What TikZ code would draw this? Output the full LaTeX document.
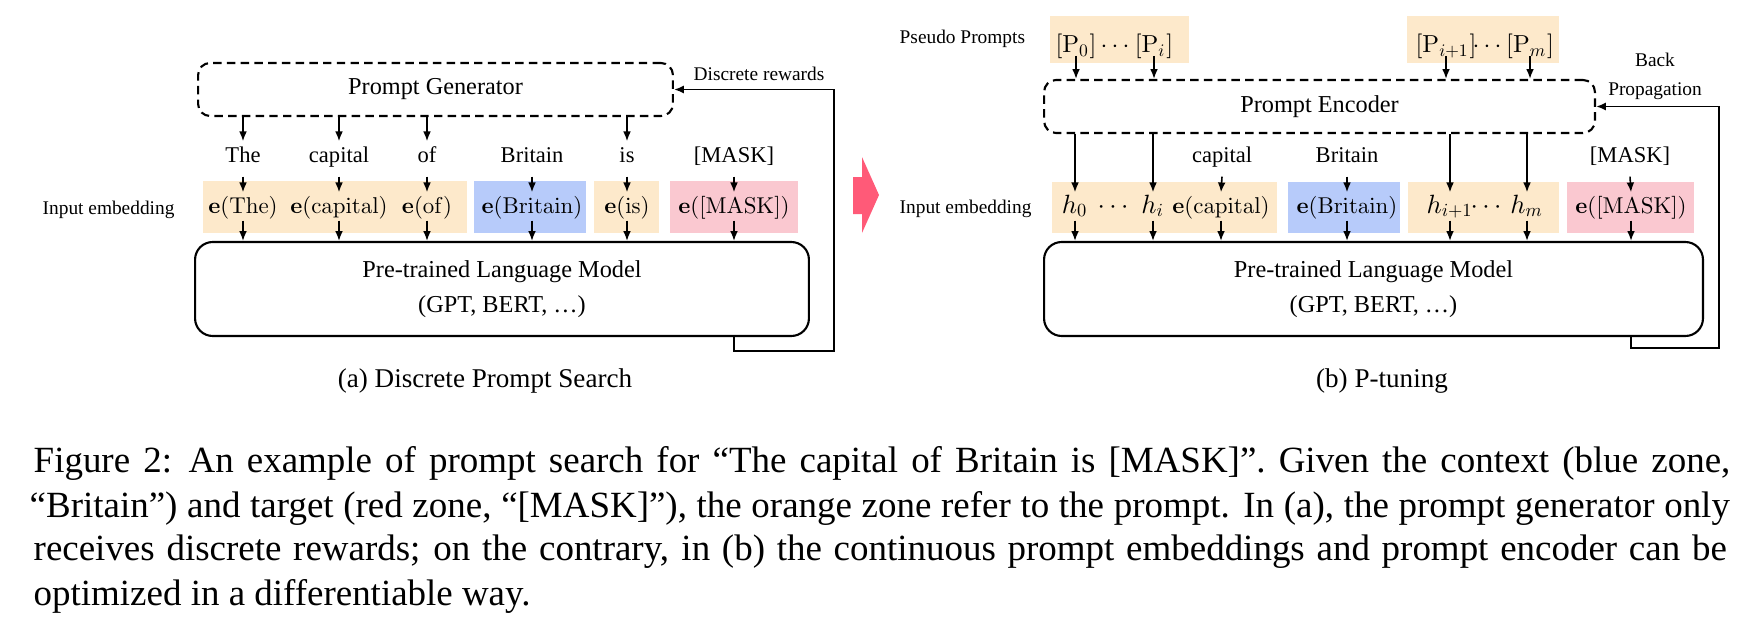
\documentclass[tikz,border=0pt]{standalone}
\usepackage[no-math]{fontspec}
\setmainfont{Liberation Serif}
\usetikzlibrary{arrows.meta}
% scalable 10pt-design Computer Modern at every size
\DeclareFontShape{OT1}{cmr}{m}{n}{<->cmr10}{}
\DeclareFontShape{OT1}{cmr}{bx}{n}{<->cmbx10}{}
\DeclareFontShape{OML}{cmm}{m}{it}{<->cmmi10}{}
\DeclareFontShape{OMS}{cmsy}{m}{n}{<->cmsy10}{}
\DeclareFontShape{OMX}{cmex}{m}{n}{<->cmex10}{}
\definecolor{zorange}{RGB}{253,233,203}
\definecolor{zblue}{RGB}{183,203,250}
\definecolor{zred}{RGB}{250,200,208}
\definecolor{parrow}{RGB}{255,90,120}
\newcommand\mycapfont{\fontsize{10.5pt}{12.6pt}\selectfont}
\newcommand\myboxfont{\fontsize{6.9pt}{9.4pt}\selectfont}
\newcommand\mywordfont{\fontsize{6.4pt}{8pt}\selectfont}
\newcommand\myembfont{\fontsize{6.5pt}{8pt}\selectfont}
\newcommand\myhfont{\fontsize{7.5pt}{9pt}\selectfont}
\newcommand\myppfont{\fontsize{7pt}{9pt}\selectfont}
\newcommand\mylblfont{\fontsize{5.5pt}{6.8pt}\selectfont}
\newcommand\mysubfont{\fontsize{7.7pt}{9pt}\selectfont}
\begin{document}
\begin{tikzpicture}[x=0.2841pt,y=-0.2841pt,
  arr/.style={-{Latex[length=2.8pt,width=2.2pt]}, line width=0.45pt},
  fbline/.style={-{Latex[length=2.8pt,width=2.3pt]}, line width=0.55pt},
  box/.style={draw, line width=0.6pt, inner sep=0, font=\myboxfont, align=center},
  dbox/.style={box, dash pattern=on 2.4pt off 1.5pt, rounded corners=3.4pt},
  lmbox/.style={box, rounded corners=5pt},
  word/.style={inner sep=0, anchor=base, text height=5.68pt, text depth=3.98pt, font=\mywordfont},
  emb/.style={inner sep=0, anchor=base, text height=5.68pt, text depth=2pt, font=\myembfont},
  hemb/.style={emb, font=\myhfont},
  pp/.style={inner sep=0, anchor=base, text height=5pt, text depth=0.6pt, font=\myppfont},
  lbl/.style={inner sep=0, font=\mylblfont},
  sub/.style={inner sep=0, anchor=base, font=\mysubfont},
  capline/.style={inner sep=0, anchor=base west, font=\mycapfont}]
\useasboundingbox (0,0) rectangle (1756,641);

% ---------- zones ----------
\fill[zorange] (203,181) rectangle (467,233);
\fill[zblue]   (474,181) rectangle (586,233);
\fill[zorange] (594,181) rectangle (659,233);
\fill[zred]    (670,181) rectangle (798,233);

\fill[zorange] (1050,16) rectangle (1189,63);
\fill[zorange] (1407,16) rectangle (1559,63);
\fill[zorange] (1052,182) rectangle (1277,233);
\fill[zblue]   (1288,182) rectangle (1400,233);
\fill[zorange] (1408,182) rectangle (1559,233);
\fill[zred]    (1567,182) rectangle (1694,233);

% ---------- (a) ----------
\node[dbox, minimum width=134.9pt, minimum height=15.06pt] (gen) at (435.5,89.5) {Prompt Generator};
\node[lmbox, minimum width=174.4pt, minimum height=26.7pt] (lm1) at (502,289)
  {Pre-trained Language Model\\[0.7pt](GPT, BERT, \dots)};

\node[word] (w1) at (243,162) {The};
\node[word] (w2) at (339,162) {capital};
\node[word] (w3) at (427,162) {of};
\node[word] (w4) at (532,162) {Britain};
\node[word] (w5) at (627,162) {is};
\node[word] (w6) at (734,162) {[MASK]};

\node[emb] (e1) at (243,213) {$\mathbf{e}(\mathrm{The})$};
\node[emb] (e2) at (339,213) {$\mathbf{e}(\mathrm{capital})$};
\node[emb] (e3) at (427,213) {$\mathbf{e}(\mathrm{of})$};
\node[emb] (e4) at (532,213) {$\mathbf{e}(\mathrm{Britain})$};
\node[emb] (e5) at (627,213) {$\mathbf{e}(\mathrm{is})$};
\node[emb] (e6) at (734,213) {$\mathbf{e}([\mathrm{MASK}])$};

\foreach \n in {1,2,3,5} \draw[arr] (gen.south -| w\n) -- (w\n.north);
\foreach \n in {1,...,6} {
  \draw[arr] (w\n.south) -- (e\n.north);
  \draw[arr] (e\n.south) -- (e\n.south |- lm1.north);
}

\node[lbl, anchor=base west] (ie1) at (42,214) {Input embedding};
\node[lbl, anchor=base west] (dr) at (693,80) {Discrete rewards};
\coordinate (fa) at (834,351);
\draw[fbline] (lm1.south -| e6) |- (fa) |- (gen.east);

\node[sub] (capa) at (485,387) {(a) Discrete Prompt Search};

% ---------- arrow between ----------
\fill[parrow] (853,177) -- (862,177) -- (862,157) -- (879,195) -- (862,233) -- (862,214) -- (853,214) -- cycle;

% ---------- (b) ----------
\node[lbl, anchor=base west] (pseudo) at (899,43) {Pseudo Prompts};
\node[pp] (p0)  at (1076,53) {$[\mathrm{P}_0]$};
\node[pp] (pd1) at (1115,53) {$\cdots$};
\node[pp] (pi)  at (1154,53) {$[\mathrm{P}_i]$};
\node[pp] (pi1) at (1446,53) {$[\mathrm{P}_{i+1}]$};
\node[pp] (pd2) at (1487,53) {$\cdots$};
\node[pp] (pm)  at (1530,53) {$[\mathrm{P}_m]$};

\node[dbox, minimum width=156.5pt, minimum height=15.06pt] (enc) at (1319.5,106.5) {Prompt Encoder};
\node[lmbox, minimum width=187.2pt, minimum height=26.7pt] (lm2) at (1373.5,289)
  {Pre-trained Language Model\\[0.7pt](GPT, BERT, \dots)};

\node[lbl, align=center] (bp) at (1655,76) {Back\\[1.5pt]Propagation};

\node[word] (wc) at (1222,162) {capital};
\node[word] (wb) at (1347,162) {Britain};
\node[word] (wm) at (1630,162) {[MASK]};

\node[hemb] (h0)  at (1075,213) {$h_0$};
\node[hemb] (hd1) at (1113,213) {$\cdots$};
\node[hemb] (hi)  at (1153,213) {$h_i$};
\node[emb]  (ec)  at (1221,213) {$\mathbf{e}(\mathrm{capital})$};
\node[emb]  (eb)  at (1347,213) {$\mathbf{e}(\mathrm{Britain})$};
\node[hemb] (hi1) at (1450,213) {$h_{i+1}$};
\node[hemb] (hd2) at (1486,213) {$\cdots$};
\node[hemb] (hm)  at (1527,213) {$h_m$};
\node[emb]  (em)  at (1631,213) {$\mathbf{e}([\mathrm{MASK}])$};

\foreach \n in {p0,pi,pi1,pm} \draw[arr] (\n.south) -- (\n.south |- enc.north);
\foreach \n in {h0,hi,hi1,hm} \draw[arr] (enc.south -| \n) -- (\n.north);
\draw[arr] (wc.south) -- (ec.north);
\draw[arr] (wb.south) -- (eb.north);
\draw[arr] (wm.south) -- (em.north);
\foreach \n in {h0,hi,ec,eb,hi1,hm,em} \draw[arr] (\n.south) -- (\n.south |- lm2.north);

\node[lbl, anchor=base west] (ie2) at (899,213) {Input embedding};
\coordinate (fb) at (1719,348);
\draw[fbline] (lm2.south -| em) |- (fb) |- (enc.east);

\node[sub] (capb) at (1382,387) {(b) P-tuning};

% ---------- caption ----------
\node[capline] (c1) at (33,472) {\makebox[482pt][s]{Figure 2:\hspace{0.45em}An example of prompt search for “The capital of Britain is [MASK]”. Given the context (blue zone,}};
\node[capline] (c2) at (29,517) {\makebox[483pt][s]{“Britain”) and target (red zone, “[MASK]”), the orange zone refer to the prompt. In (a), the prompt generator only}};
\node[capline] (c3) at (33,560) {\makebox[481pt][s]{receives discrete rewards; on the contrary, in (b) the continuous prompt embeddings and prompt encoder can be}};
\node[capline] (c4) at (33,605) {optimized in a differentiable way.};
\end{tikzpicture}
\end{document}
